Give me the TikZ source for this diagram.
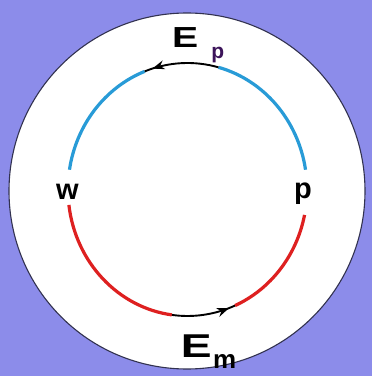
\documentclass[tikz,border=0pt]{standalone}
\usepackage{fontspec}
\setmainfont{Liberation Sans}
\usetikzlibrary{decorations.markings,arrows.meta,calc}
\definecolor{bgpurple}{RGB}{140,140,234}
\definecolor{arcblue}{RGB}{40,155,215}
\definecolor{arcred}{RGB}{222,32,32}
\definecolor{subpurple}{RGB}{60,20,90}
\definecolor{rimgray}{RGB}{50,50,80}
\begin{document}
\begin{tikzpicture}[x=1pt,y=1pt,
  bigtxt/.style={inner sep=0pt, font=\fontsize{29}{31}\selectfont\bfseries},
  etxt/.style={inner sep=0pt, anchor=base west},
  bluearc/.style={arcblue, line width=3.2pt},
  redarc/.style={arcred, line width=3.2pt},
  blackarc/.style={black, line width=1.9pt},
  arrowat/.style={postaction={decorate, decoration={markings,
      mark=at position #1 with {\arrow{Stealth[length=12pt,width=9pt]}}}}}
]
\fill[bgpurple] (0,0) rectangle (372,376);
\useasboundingbox (0,0) rectangle (372,376);
% outer disc
\coordinate (oc) at (187,185);
\filldraw[fill=white, draw=rimgray, line width=1.1pt] (oc) circle[radius=178];
% inner cycle (ellipse centre)
\coordinate (ic) at (187.5,186.5);
\def\ra{119.5}\def\rb{126.5}
% blue upper arcs
\draw[bluearc] ($(ic)+(171:\ra pt and \rb pt)$) arc[start angle=171, end angle=111, x radius=\ra pt, y radius=\rb pt];
\draw[bluearc] ($(ic)+(75:\ra pt and \rb pt)$) arc[start angle=75, end angle=9, x radius=\ra pt, y radius=\rb pt];
% black top arc with arrow (counterclockwise)
\draw[blackarc, arrowat=0.89] ($(ic)+(75:\ra pt and \rb pt)$) arc[start angle=75, end angle=111, x radius=\ra pt, y radius=\rb pt];
% red lower arcs
\draw[redarc] ($(ic)+(187:\ra pt and \rb pt)$) arc[start angle=187, end angle=262.5, x radius=\ra pt, y radius=\rb pt];
\draw[redarc] ($(ic)+(293.4:\ra pt and \rb pt)$) arc[start angle=293.4, end angle=348.4, x radius=\ra pt, y radius=\rb pt];
% black bottom arc with arrow
\draw[blackarc, arrowat=0.9] ($(ic)+(262.5:\ra pt and \rb pt)$) arc[start angle=262.5, end angle=293.4, x radius=\ra pt, y radius=\rb pt];
% labels
\node[bigtxt, anchor=base] (w) at (67.5,176) {w};
\node[bigtxt, anchor=base] (p) at (303,177) {p};
\node[etxt] (Ep) at (172,328) {\fontsize{29}{31}\bfseries\selectfont\scalebox{1.35}[1]{E}\hspace{13pt}\raisebox{-11pt}{\color{subpurple}\fontsize{21}{22}\bfseries\selectfont p}};
\node[etxt] (Em) at (180.6,18) {\fontsize{33}{35}\bfseries\selectfont\scalebox{1.4}[1]{E}\hspace{1.5pt}\raisebox{-10pt}{\fontsize{26}{28}\bfseries\selectfont m}};
\end{tikzpicture}
\end{document}
